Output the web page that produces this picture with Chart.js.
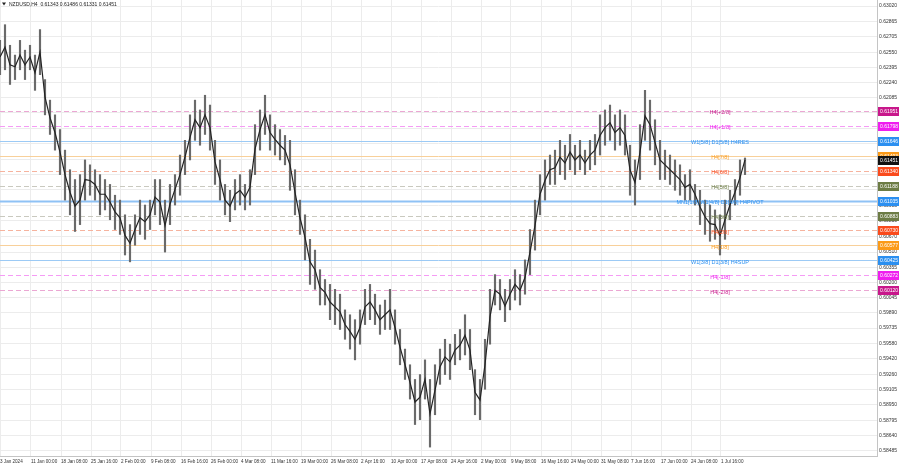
<!DOCTYPE html>
<html>
<head>
<meta charset="utf-8">
<script src="https://cdn.jsdelivr.net/npm/chart.js@4.4.1/dist/chart.umd.min.js"></script>
<style>
  html, body { margin: 0; padding: 0; background: #fff; }
  canvas { display: block; }
</style>
</head>
<body>
<canvas id="chart" width="900" height="468"></canvas>
<script>
// NZDUSD H4, sampled along the chart (high / low / close per sample)
const highs = [
  0.6267,0.6283,0.6262,0.6252,0.6267,0.6257,0.6262,0.6252,0.6278,0.6227,
  0.6206,0.6191,0.6176,0.6155,0.6135,0.6125,0.6130,0.6145,0.6140,0.6135,
  0.6130,0.6125,0.6120,0.6109,0.6104,0.6089,0.6079,0.6089,0.6104,0.6099,
  0.6104,0.6125,0.6125,0.6104,0.6120,0.6130,0.6150,0.6165,0.6191,0.6206,
  0.6196,0.6211,0.6201,0.6165,0.6145,0.6120,0.6114,0.6125,0.6130,0.6120,
  0.6135,0.6181,0.6196,0.6211,0.6191,0.6181,0.6176,0.6170,0.6165,0.6135,
  0.6104,0.6089,0.6064,0.6053,0.6033,0.6023,0.6018,0.6013,0.6008,0.5992,
  0.5987,0.5982,0.5992,0.6013,0.6018,0.6008,0.5997,0.6002,0.6013,0.5992,
  0.5972,0.5952,0.5936,0.5921,0.5926,0.5941,0.5921,0.5936,0.5952,0.5962,
  0.5957,0.5967,0.5972,0.5987,0.5972,0.5931,0.5921,0.5962,0.6013,0.6028,
  0.6023,0.6013,0.6023,0.6033,0.6028,0.6043,0.6074,0.6104,0.6130,0.6145,
  0.6150,0.6155,0.6165,0.6160,0.6171,0.6160,0.6165,0.6155,0.6165,0.6171,
  0.6191,0.6196,0.6201,0.6191,0.6196,0.6191,0.6160,0.6145,0.6181,0.6216,
  0.6206,0.6186,0.6165,0.6155,0.6150,0.6145,0.6140,0.6130,0.6135,0.6120,
  0.6114,0.6104,0.6099,0.6094,0.6089,0.6104,0.6114,0.6125,0.6145,0.6147
];
const lows = [
  0.6232,0.6237,0.6222,0.6227,0.6237,0.6227,0.6237,0.6216,0.6232,0.6191,
  0.6171,0.6155,0.6130,0.6104,0.6089,0.6072,0.6079,0.6104,0.6109,0.6104,
  0.6089,0.6094,0.6084,0.6074,0.6069,0.6048,0.6041,0.6058,0.6069,0.6064,
  0.6074,0.6089,0.6079,0.6051,0.6079,0.6099,0.6109,0.6130,0.6145,0.6165,
  0.6160,0.6171,0.6155,0.6120,0.6104,0.6089,0.6082,0.6094,0.6099,0.6094,
  0.6099,0.6130,0.6155,0.6171,0.6155,0.6150,0.6145,0.6140,0.6114,0.6089,
  0.6069,0.6043,0.6018,0.6013,0.5997,0.5997,0.5982,0.5977,0.5972,0.5962,
  0.5952,0.5941,0.5957,0.5977,0.5982,0.5977,0.5967,0.5972,0.5972,0.5957,
  0.5936,0.5921,0.5901,0.5875,0.5880,0.5901,0.5852,0.5885,0.5916,0.5926,
  0.5921,0.5936,0.5941,0.5946,0.5931,0.5885,0.5880,0.5911,0.5957,0.5997,
  0.5992,0.5980,0.5992,0.6002,0.5997,0.6008,0.6028,0.6053,0.6089,0.6104,
  0.6120,0.6120,0.6130,0.6125,0.6135,0.6130,0.6135,0.6130,0.6135,0.6140,
  0.6150,0.6160,0.6165,0.6155,0.6160,0.6150,0.6109,0.6099,0.6125,0.6165,
  0.6155,0.6140,0.6125,0.6125,0.6120,0.6114,0.6109,0.6104,0.6104,0.6099,
  0.6079,0.6069,0.6062,0.6064,0.6048,0.6064,0.6084,0.6099,0.6109,0.6130
];
const closes = [
  0.6250,0.6260,0.6242,0.6240,0.6252,0.6242,0.6250,0.6234,0.6255,0.6209,
  0.6188,0.6173,0.6153,0.6130,0.6112,0.6098,0.6104,0.6125,0.6124,0.6120,
  0.6110,0.6110,0.6102,0.6092,0.6086,0.6068,0.6060,0.6074,0.6086,0.6082,
  0.6089,0.6107,0.6102,0.6078,0.6100,0.6115,0.6130,0.6148,0.6168,0.6186,
  0.6178,0.6191,0.6178,0.6143,0.6125,0.6104,0.6098,0.6110,0.6114,0.6107,
  0.6117,0.6156,0.6176,0.6191,0.6173,0.6166,0.6160,0.6155,0.6140,0.6112,
  0.6086,0.6066,0.6041,0.6033,0.6015,0.6010,0.6000,0.5995,0.5990,0.5977,
  0.5970,0.5962,0.5974,0.5995,0.6000,0.5992,0.5982,0.5987,0.5992,0.5974,
  0.5954,0.5936,0.5918,0.5898,0.5903,0.5921,0.5886,0.5910,0.5934,0.5944,
  0.5939,0.5951,0.5956,0.5966,0.5951,0.5908,0.5900,0.5936,0.5985,0.6012,
  0.6008,0.5996,0.6008,0.6018,0.6012,0.6025,0.6051,0.6078,0.6110,0.6124,
  0.6135,0.6137,0.6148,0.6142,0.6153,0.6145,0.6150,0.6142,0.6150,0.6155,
  0.6170,0.6178,0.6183,0.6173,0.6178,0.6170,0.6135,0.6122,0.6153,0.6190,
  0.6181,0.6163,0.6145,0.6140,0.6135,0.6130,0.6125,0.6117,0.6120,0.6110,
  0.6097,0.6087,0.6080,0.6079,0.6068,0.6084,0.6099,0.6112,0.6127,0.6145
];

const timeLabels = [
  '3 Jan 2024','11 Jan 00:00','18 Jan 08:00','25 Jan 16:00','2 Feb 00:00','9 Feb 08:00',
  '16 Feb 16:00','26 Feb 00:00','4 Mar 08:00','11 Mar 16:00','19 Mar 00:00','26 Mar 08:00',
  '2 Apr 16:00','10 Apr 00:00','17 Apr 08:00','24 Apr 16:00','2 May 00:00','9 May 08:00',
  '16 May 16:00','24 May 00:00','31 May 08:00','7 Jun 16:00','17 Jun 00:00','24 Jun 08:00','1 Jul 16:00'
];
const priceTicks = [
  0.63020,0.62865,0.62705,0.62550,0.62395,0.62240,0.62085,0.61930,0.61770,0.61615,
  0.61455,0.61300,0.61145,0.60985,0.60830,0.60670,0.60510,0.60355,0.60200,0.60045,
  0.59890,0.59735,0.59580,0.59420,0.59260,0.59105,0.58950,0.58795,0.58640,0.58485
];

const levelValues = [0.61951,0.61798,0.61646,0.61493,0.61340,0.61188,0.61035,0.60883,0.60730,0.60577,0.60425,0.60272,0.60120];
const levelNames = [
  'H4[+2/8]','H4[+1/8]','W1[5/8] D1[5/8] H4RES','H4[7/8]','H4[6/8]','H4[5/8]',
  'MN1[1/8] W1[4/8] D1[4/8] H4PIVOT','H4[3/8]','H4[2/8]','H4[1/8]',
  'W1[3/8] D1[3/8] H4SUP','H4[-1/8]','H4[-2/8]'
];
const bidPrice = 0.61451;
const symbolInfo = 'NZDUSD,H4  0.61343 0.61486 0.61331 0.61451';

// styles
const PINK = { line: '#eba7d3', box: '#c8178b', dash: [5, 3], width: 1 };
const MAGENTA = { line: '#f59bf5', box: '#ef1eef', dash: [5, 3], width: 1 };
const BLUE = { line: '#9ccaf5', box: '#2b8ff0', dash: [], width: 1 };
const ORANGE = { line: '#f8d09a', box: '#fb9a18', dash: [], width: 1 };
const RED = { line: '#f6b39e', box: '#fa4a1c', dash: [5, 3], width: 1 };
const OLIVE = { line: '#c9c9bf', box: '#6c7c44', dash: [5, 3], width: 1 };
const PIVOT = { line: '#8fc2f5', box: '#2b8ff0', dash: [], width: 2 };
const levelStyles = [PINK, MAGENTA, BLUE, ORANGE, RED, OLIVE, PIVOT, OLIVE, RED, ORANGE, BLUE, MAGENTA, PINK];
const levelTextX = 144;
const FONT = 'Liberation Sans';

const levelsPlugin = {
  id: 'levels',
  beforeDatasetsDraw(chart) {
    const { ctx, chartArea: a, scales: { y } } = chart;
    ctx.save();
    levelValues.forEach((v, i) => {
      const st = levelStyles[i];
      const py = Math.round(y.getPixelForValue(v)) + 0.5;
      ctx.strokeStyle = st.line;
      ctx.lineWidth = st.width;
      ctx.setLineDash(st.dash);
      ctx.beginPath();
      ctx.moveTo(a.left, py);
      ctx.lineTo(a.right, py);
      ctx.stroke();
    });
    ctx.restore();
  },
  afterDatasetsDraw(chart) {
    const { ctx, scales: { x, y } } = chart;
    ctx.save();
    ctx.font = '5.5px "' + FONT + '"';
    ctx.textAlign = 'center';
    ctx.textBaseline = 'middle';
    levelValues.forEach((v, i) => {
      ctx.fillStyle = levelStyles[i].box;
      ctx.fillText(levelNames[i], x.getPixelForValue(levelTextX), y.getPixelForValue(v) + 2);
    });
    ctx.restore();
  },
  afterDraw(chart) {
    const { ctx, chartArea: a, scales: { y } } = chart;
    ctx.save();
    ctx.font = '5px "' + FONT + '"';
    ctx.textBaseline = 'middle';
    ctx.textAlign = 'left';
    const box = (v, fill) => {
      const py = Math.round(y.getPixelForValue(v));
      ctx.fillStyle = fill;
      ctx.fillRect(a.right + 1, py - 4, 21, 9);
      ctx.fillStyle = '#fff';
      ctx.fillText(v.toFixed(5), a.right + 3, py + 0.5);
    };
    levelValues.forEach((v, i) => box(v, levelStyles[i].box));
    box(bidPrice, '#111');
    // symbol header
    ctx.fillStyle = '#222';
    ctx.beginPath();
    ctx.moveTo(2, 2.5); ctx.lineTo(6, 2.5); ctx.lineTo(4, 5.5); ctx.closePath();
    ctx.fill();
    ctx.fillText(symbolInfo, 9, 4.5);
    ctx.restore();
  }
};

const noPad = s => { s.paddingTop = 0; s.paddingBottom = 0; s.paddingLeft = 0; s.paddingRight = 0; };

const ctx = document.getElementById('chart').getContext('2d');
new Chart(ctx, {
  type: 'bar',
  data: {
    datasets: [
      {
        type: 'line',
        data: closes.map((c, i) => ({ x: i, y: c })),
        borderColor: '#232323',
        borderWidth: 1.2,
        pointRadius: 0,
        tension: 0,
        order: 1
      },
      {
        type: 'bar',
        data: highs.map((h, i) => ({ x: i, y: [lows[i], h] })),
        backgroundColor: '#6a6a6a',
        barThickness: 1.5,
        order: 2
      }
    ]
  },
  options: {
    responsive: false,
    animation: false,
    layout: { padding: 0 },
    plugins: { legend: { display: false }, tooltip: { enabled: false } },
    scales: {
      x: {
        type: 'linear',
        min: 0,
        max: 175.4,
        offset: false,
        grid: { color: '#ececec', drawTicks: false, offset: false },
        border: { color: '#c4c4c4' },
        afterBuildTicks: s => { s.ticks = timeLabels.map((t, i) => ({ value: i === 0 ? 0 : 6.2 + 6 * (i - 1) })); },
        afterFit: s => { s.height = 12; noPad(s); },
        ticks: {
          autoSkip: false, maxRotation: 0, minRotation: 0, align: 'start', padding: 3,
          color: '#333', font: { size: 4.6, family: FONT },
          callback: (v, i) => timeLabels[i]
        }
      },
      y: {
        position: 'right',
        min: 0.58429,
        max: 0.63082,
        grid: { color: '#ececec', drawTicks: false },
        border: { color: '#c4c4c4' },
        afterBuildTicks: s => { s.ticks = priceTicks.map(v => ({ value: v })); },
        afterFit: s => { s.width = 23; noPad(s); },
        ticks: {
          autoSkip: false, padding: 2,
          color: '#333', font: { size: 5, family: FONT },
          callback: v => v.toFixed(5)
        }
      }
    }
  },
  plugins: [levelsPlugin]
});
</script>
</body>
</html>
